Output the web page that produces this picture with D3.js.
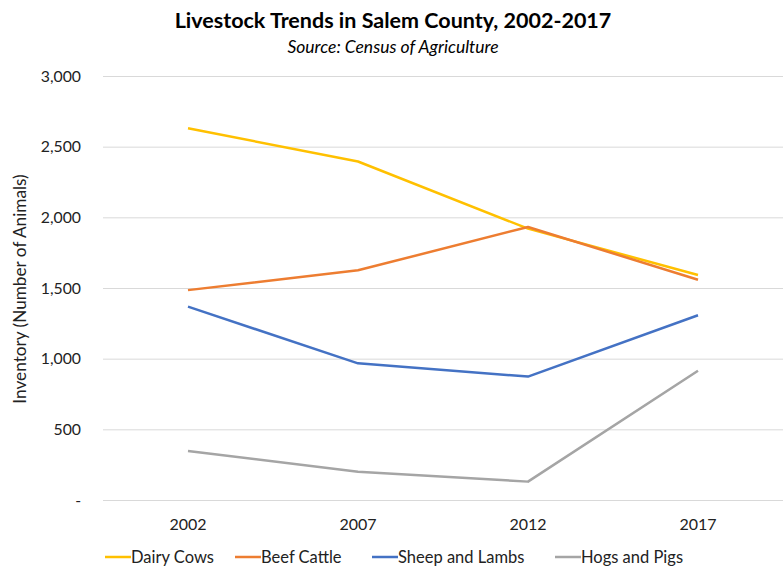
<!DOCTYPE html>
<html><head><meta charset="utf-8">
<script src="https://cdn.jsdelivr.net/npm/d3@7"></script>
<style>body{margin:0;background:#fff}svg{display:block}text{font-family:Lato,"Open Sans",sans-serif}</style>
</head><body>
<script>
const years = ["2002","2007","2012","2017"];
const seriesNames = ["Dairy Cows","Beef Cattle","Sheep and Lambs","Hogs and Pigs"];
const dairyCows = [2630, 2395, 1920, 1592];
const beefCattle = [1485, 1625, 1932, 1558];
const sheepLambs = [1368, 967, 873, 1307];
const hogsPigs = [347, 200, 130, 915];
const colors = ["#FFC000","#ED7D31","#4472C4","#A5A5A5"];
const yTicks = [0,500,1000,1500,2000,2500,3000];

const allSeries = [dairyCows, beefCattle, sheepLambs, hogsPigs];
const W=784,H=567;
const svg=d3.select("body").append("svg").attr("width",W).attr("height",H);
const x=d3.scaleBand().domain(years).range([103,783]);
const y=d3.scaleLinear().domain([0,3000]).range([500,76]);

svg.append("text").attr("x",393).attr("y",28).attr("text-anchor","middle").attr("font-size",21.5).attr("font-weight","bold").attr("fill","#000").text("Livestock Trends in Salem County, 2002-2017");
svg.append("text").attr("x",393).attr("y",53).attr("text-anchor","middle").attr("font-size",17.5).attr("font-style","italic").attr("fill","#000").text("Source: Census of Agriculture");

const ya=svg.append("g").attr("transform","translate(103,0)").call(d3.axisLeft(y).tickValues(yTicks).tickSize(-680).tickFormat(d=>d===0?"-":d3.format(",")(d)));
ya.select(".domain").remove();
ya.selectAll(".tick line").attr("stroke","#d9d9d9").attr("stroke-width",1);
ya.selectAll(".tick text").attr("x",-22).attr("font-size",15.8).attr("fill","#222");

const xa=svg.append("g").attr("transform","translate(0,500)").call(d3.axisBottom(x).tickSize(0));
xa.select(".domain").remove();
xa.selectAll(".tick text").attr("dy",0).attr("y",30).attr("font-size",16).attr("fill","#222");

svg.append("text").attr("transform","translate(26,289) rotate(-90)").attr("text-anchor","middle").attr("font-size",17.2).attr("fill","#222").text("Inventory (Number of Animals)");

const line=d3.line().x((d,i)=>x(years[i])+x.bandwidth()/2).y(d=>y(d));
allSeries.forEach((s,k)=>{
  svg.append("path").datum(s).attr("d",line).attr("fill","none").attr("stroke",colors[k]).attr("stroke-width",2.5).attr("stroke-linejoin","round");
});

const legX=[105,235,372,555];
seriesNames.forEach((n,k)=>{
  const g=svg.append("g").attr("transform",`translate(${legX[k]},557)`);
  g.append("line").attr("x1",0).attr("x2",26).attr("y1",0).attr("y2",0).attr("stroke",colors[k]).attr("stroke-width",2.5);
  g.append("text").attr("x",26).attr("y",6).attr("font-size",16.5).attr("fill","#222").text(n);
});
</script>
</body></html>
